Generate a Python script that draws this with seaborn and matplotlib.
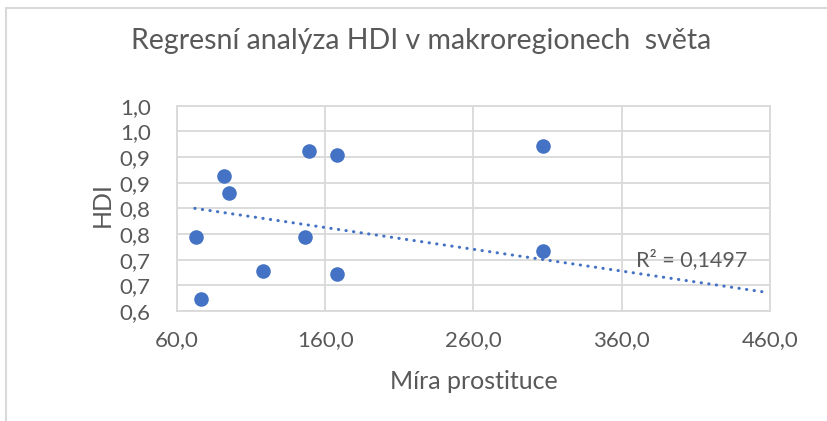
import seaborn as sns
import matplotlib.pyplot as plt
import pandas as pd
from matplotlib.lines import Line2D

# values
prostituce = [73.0, 76.0, 92.0, 94.9, 117.7, 146.3, 149.0, 167.6, 167.6, 306.8, 306.8]
hdi = [0.744, 0.623, 0.864, 0.829, 0.677, 0.744, 0.911, 0.903, 0.673, 0.922, 0.716]

# Excel trendline as shown (end points)
trend_x = [72.0, 456.0]
trend_y = [0.800, 0.637]

xticks = [60, 160, 260, 360, 460]
xtick_labels = ["60,0", "160,0", "260,0", "360,0", "460,0"]
yticks = [0.60, 0.65, 0.70, 0.75, 0.80, 0.85, 0.90, 0.95, 1.00]
ytick_labels = ["0,6", "0,7", "0,7", "0,8", "0,8", "0,9", "0,9", "1,0", "1,0"]

df = pd.DataFrame({"x": prostituce, "y": hdi})
trend = pd.DataFrame({"x": trend_x, "y": trend_y})

sns.set_theme(style="whitegrid")
plt.rcParams["font.family"] = ["Lato", "DejaVu Sans"]
text_col = "#595959"
grid_col = "#D9D9D9"
blue = "#4472C4"

W, H = 827, 421
fig = plt.figure(figsize=(8.27, 4.21), dpi=100)
ax = fig.add_axes([177 / W, 1 - 311 / H, (770 - 177) / W, (311 - 105.7) / H])

sns.lineplot(data=trend, x="x", y="y", ax=ax, color=blue, linewidth=2.2,
             linestyle=(0, (0.1, 2.4)), dash_capstyle="round")
sns.scatterplot(data=df, x="x", y="y", ax=ax, color=blue, s=110, edgecolor=blue,
                linewidth=0, zorder=3)

ax.set_xlim(60, 460)
ax.set_ylim(0.60, 1.00)
ax.set_xticks(xticks)
ax.set_xticklabels(xtick_labels)
ax.set_yticks(yticks)
ax.set_yticklabels(ytick_labels)
ax.tick_params(axis="both", colors=text_col, labelsize=16, length=0)
ax.tick_params(axis="y", pad=19)
ax.tick_params(axis="x", pad=14)
ax.grid(True, color=grid_col, linewidth=1.3)
for sp in ax.spines.values():
    sp.set_color(grid_col)
    sp.set_linewidth(1.3)
ax.set_xlabel("")
ax.set_ylabel("")

fig.text(636 / W, 1 - 266 / H, "R² = 0,1497", color=text_col, fontsize=15.5,
         ha="left", va="baseline")

fig.text(421 / W, 1 - 49.5 / H, "Regresní analýza HDI v makroregionech  světa",
         color=text_col, fontsize=20.5, ha="center", va="baseline")
fig.text(474 / W, 1 - 389 / H, "Míra prostituce", color=text_col,
         fontsize=18, ha="center", va="baseline")
fig.text(102.5 / W, 1 - 205 / H, "HDI", color=text_col, fontsize=18,
         ha="center", va="center", rotation=90)

# chart frame (top and left edges visible)
fig.add_artist(Line2D([6 / W, 1.0], [1 - 8 / H, 1 - 8 / H], color=grid_col, linewidth=1.5))
fig.add_artist(Line2D([6 / W, 6 / W], [0.0, 1 - 8 / H], color=grid_col, linewidth=1.5))

fig.savefig("out.png", dpi=100)
